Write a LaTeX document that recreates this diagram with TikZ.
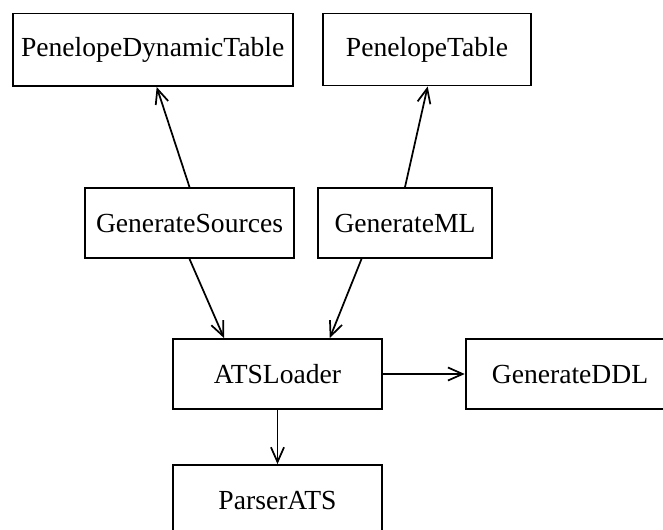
\documentclass[tikz,border=0pt]{standalone}
\usepackage{fontspec}
\setmainfont{Liberation Serif}
\usetikzlibrary{arrows.meta}
\begin{document}
\begin{tikzpicture}[x=0.75pt,y=-0.75pt,
  cls/.style={draw, line width=1.4pt, inner sep=0pt,
    font=\fontsize{20.7}{24}\selectfont},
  dep/.style={line width=1.3pt,
    -{Straight Barb[length=11pt,width=9.8pt,line width=1.3pt]}}]
\useasboundingbox (0,0) rectangle (663,529);

% classes
\node[cls, minimum width=210pt,   minimum height=54.4pt] (pdt)  at (152.7,49.8) {PenelopeDynamicTable};
\node[cls, minimum width=156.2pt, minimum height=54pt]   (pt)   at (427,49.5)  {PenelopeTable};
\node[cls, minimum width=156.8pt, minimum height=52.5pt] (gs)   at (189.5,223) {GenerateSources};
\node[cls, minimum width=130.3pt, minimum height=52.5pt] (gml)  at (405,223)   {GenerateML};
\node[cls, minimum width=157.2pt, minimum height=52.5pt] (atsl) at (277.5,374) {ATSLoader};
\node[cls, minimum width=156.5pt, minimum height=52.5pt] (gddl) at (570,374)   {GenerateDDL};
\node[cls, minimum width=157.2pt, minimum height=52.5pt] (pats) at (277.5,500) {ParserATS};

% dependencies
\draw[dep] (gs.north) -- ([xshift=3pt]pdt.south);
\draw[dep] (gml.north) -- ([xshift=0.5pt]pt.south);
\draw[dep] (gs.south) -- ([xshift=-40.1pt]atsl.north);
\draw[dep] ([xshift=-32.6pt]gml.south) -- ([xshift=39.2pt]atsl.north);
\draw[dep] (atsl.east) -- (gddl.west);
\draw[dep] (atsl.south) -- (pats.north);
\end{tikzpicture}
\end{document}
